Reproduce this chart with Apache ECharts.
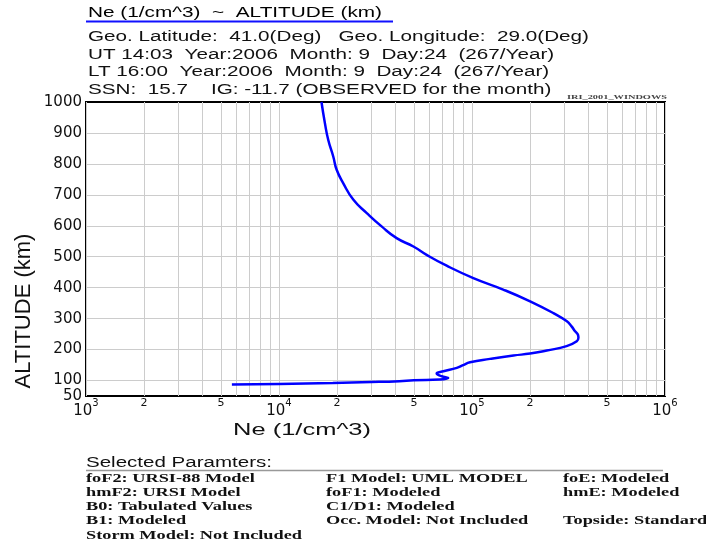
<!DOCTYPE html>
<html>
<head>
<meta charset="utf-8">
<script src="https://cdn.jsdelivr.net/npm/echarts@6/dist/echarts.min.js"></script>
<style>
html,body{margin:0;padding:0;background:#fff;}
#main{width:706px;height:546px;}
</style>
</head>
<body>
<div id="main"></div>
<script>
// ---- data ----
var altitudeKm = [87, 89, 92, 95, 98, 101, 103, 108, 114, 119, 123, 130, 141, 150, 159, 170, 181, 187, 197, 211, 227, 238, 248, 259, 275, 292, 318, 356, 394, 431, 471, 506, 533, 560, 598, 641, 684, 738, 781, 824, 877, 931, 1000];
var electronDensity = [5700, 10000, 19000, 30000, 42000, 50000, 68000, 75300, 69600, 66500, 65600, 71100, 83400, 90000, 97700, 124000, 164000, 200000, 244000, 309000, 349000, 356000, 354000, 342000, 328000, 309000, 264000, 200000, 145000, 101600, 73900, 58200, 49700, 40700, 34000, 28500, 24300, 21500, 19900, 19100, 18000, 17300, 16600];

var xGridValues = [1000,2000,3000,4000,5000,6000,7000,8000,9000,
  10000,20000,30000,40000,50000,60000,70000,80000,90000,
  100000,200000,300000,400000,500000,600000,700000,800000,900000,1000000];
var xLabelValues = [1000, 2000, 5000, 10000, 20000, 50000, 100000, 200000, 500000, 1000000];
var xLabelTexts = ['10^3', '2', '5', '10^4', '2', '5', '10^5', '2', '5', '10^6'];
var yGridValues = [100, 200, 300, 400, 500, 600, 700, 800, 900];
var yLabelValues = [50, 100, 200, 300, 400, 500, 600, 700, 800, 900, 1000];

var titleText = 'Ne (1/cm^3)  ~  ALTITUDE (km)';
var headerLines = [
  'Geo. Latitude:  41.0(Deg)   Geo. Longitude:  29.0(Deg)',
  'UT 14:03  Year:2006  Month: 9  Day:24  (267/Year)',
  'LT 16:00  Year:2006  Month: 9  Day:24  (267/Year)',
  'SSN:  15.7    IG: -11.7 (OBSERVED for the month)'
];
var paramsHeading = 'Selected Paramters:';
var paramsCol1 = ['foF2: URSI-88 Model', 'hmF2: URSI Model', 'B0: Tabulated Values', 'B1: Modeled', 'Storm Model: Not Included'];
var paramsCol2 = ['F1 Model: UML MODEL', 'foF1: Modeled', 'C1/D1: Modeled', 'Occ. Model: Not Included'];
var paramsCol3 = ['foE: Modeled', 'hmE: Modeled', '', 'Topside: Standard'];
var xAxisName = 'Ne (1/cm^3)';
var yAxisName = 'ALTITUDE (km)';
var programTag = 'IRI_2001_WINDOWS';

// ---- helpers ----
var mctx = document.createElement('canvas').getContext('2d');
function measure(text, font) { mctx.font = font; return mctx.measureText(text).width; }
function stretchedText(text, left, cy, font, scaleX, color) {
  return {
    type: 'text', x: left, y: cy, scaleX: scaleX, silent: true,
    style: { text: text, font: font, fill: color || '#000', textAlign: 'left', textVerticalAlign: 'middle' }
  };
}

var sansF = function (s) { return s + 'px "Liberation Sans"'; };
var titleFont = sansF(14);
var headFont = sansF(14);
var headScale = (589 - 88) / measure(headerLines[0], headFont);
var titleScale = (382 - 88) / measure(titleText, titleFont);
var selFont = sansF(14);
var selScale = (272 - 86) / measure(paramsHeading, selFont);
var serifFont = 'bold 12px "Liberation Serif"';
var serifScale = (302 - 86) / measure(paramsCol1[4], serifFont);
var xnFont = sansF(17);
var xnScale = (371 - 233) / measure(xAxisName, xnFont);
var tagFont = 'bold 7px "Liberation Serif"';
var tagScale = (667 - 567) / measure(programTag, tagFont);

var graphics = [];
graphics.push(stretchedText(titleText, 88, 13, titleFont, titleScale));
graphics.push({ type: 'line', silent: true, shape: { x1: 86, y1: 21.5, x2: 393, y2: 21.5 }, style: { stroke: '#1010ff', lineWidth: 2 } });
var headY = [37, 55, 72.5, 90];
headerLines.forEach(function (t, i) { graphics.push(stretchedText(t, 88, headY[i], headFont, headScale, '#111')); });
graphics.push(stretchedText(programTag, 567, 97, tagFont, tagScale, '#444'));
graphics.push(stretchedText(xAxisName, 233, 430, xnFont, xnScale, '#111'));
graphics.push({
  type: 'text', x: 24, y: 311, rotation: Math.PI / 2, silent: true,
  style: { text: yAxisName, font: sansF(22), fill: '#111', textAlign: 'center', textVerticalAlign: 'middle' }
});
graphics.push(stretchedText(paramsHeading, 86, 463, selFont, selScale, '#111'));
graphics.push({ type: 'line', silent: true, shape: { x1: 86, y1: 470.5, x2: 663, y2: 470.5 }, style: { stroke: '#999', lineWidth: 1.5 } });
var rowY = [478.5, 492.5, 506.5, 520.5, 535.5];
paramsCol1.forEach(function (t, i) { graphics.push(stretchedText(t, 86, rowY[i], serifFont, serifScale, '#111')); });
paramsCol2.forEach(function (t, i) { graphics.push(stretchedText(t, 326, rowY[i], serifFont, serifScale, '#111')); });
paramsCol3.forEach(function (t, i) { if (t) graphics.push(stretchedText(t, 563, rowY[i], serifFont, serifScale, '#111')); });

function xLabelFormatter(value) {
  var idx = -1;
  for (var i = 0; i < xLabelValues.length; i++) {
    if (Math.abs(value - xLabelValues[i]) / xLabelValues[i] < 1e-6) { idx = i; break; }
  }
  if (idx < 0) return '';
  var t = xLabelTexts[idx];
  if (t.indexOf('^') >= 0) {
    var p = t.split('^');
    return '{b|' + p[0] + '}{s|' + p[1] + '}';
  }
  return '{m|' + t + '}';
}

var chart = echarts.init(document.getElementById('main'), null, { renderer: 'canvas' });
chart.setOption({
  animation: false,
  backgroundColor: '#fff',
  grid: { left: 86, right: 41, top: 102, bottom: 150, show: true, borderColor: '#000', borderWidth: 2, backgroundColor: '#fff', containLabel: false },
  xAxis: {
    type: 'log', logBase: 10, min: 1000, max: 1000000,
    axisLine: { show: false },
    axisTick: { show: false, customValues: xGridValues },
    splitLine: { show: true, lineStyle: { color: '#cccccc', width: 1 } },
    axisLabel: {
      customValues: xLabelValues, margin: 2, formatter: xLabelFormatter, color: '#111',
      rich: {
        b: { fontFamily: 'DejaVu Sans', fontSize: 15, verticalAlign: 'bottom', lineHeight: 21, color: '#111' },
        s: { fontFamily: 'DejaVu Sans', fontSize: 10, verticalAlign: 'top', lineHeight: 21, color: '#111' },
        m: { fontFamily: 'DejaVu Sans', fontSize: 11, verticalAlign: 'top', color: '#111' }
      }
    }
  },
  yAxis: {
    type: 'value', min: 50, max: 1000,
    axisLine: { show: false },
    axisTick: { show: false, customValues: yGridValues },
    splitLine: { show: true, lineStyle: { color: '#cccccc', width: 1 } },
    axisLabel: { customValues: yLabelValues, margin: 4, fontFamily: 'DejaVu Sans', fontSize: 15, color: '#111',
      formatter: function (v) { return String(v); } }
  },
  series: [{
    type: 'line',
    data: altitudeKm.map(function (a, i) { return [electronDensity[i], a]; }),
    showSymbol: false, smooth: 0.5,
    lineStyle: { color: '#0000ff', width: 2.5 },
    z: 3
  }],
  graphic: graphics
});
</script>
</body>
</html>
